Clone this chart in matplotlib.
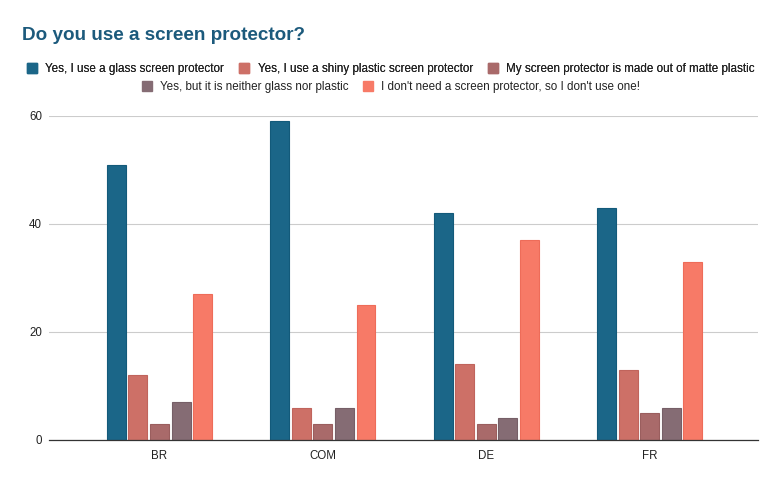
import matplotlib
matplotlib.use("Agg")
import matplotlib.pyplot as plt
from matplotlib.patches import Patch
import numpy as np
from matplotlib import font_manager

fams = {f.name for f in font_manager.fontManager.ttflist}
base_font = "Liberation Sans"
narrow_font = "Liberation Sans Narrow" if "Liberation Sans Narrow" in fams else "Liberation Sans"

categories = ["BR", "COM", "DE", "FR"]
series_names = [
    "Yes, I use a glass screen protector",
    "Yes, I use a shiny plastic screen protector",
    "My screen protector is made out of matte plastic",
    "Yes, but it is neither glass nor plastic",
    "I don't need a screen protector, so I don't use one!",
]
glass = [51, 59, 42, 43]
shiny = [12, 6, 14, 13]
matte = [3, 3, 3, 5]
neither = [7, 6, 4, 6]
none_ = [27, 25, 37, 33]
series_values = [glass, shiny, matte, neither, none_]
colors = ["#1b6688", "#cd7067", "#a96a6a", "#856c74", "#f77a67"]
edges = ["#135a7a", "#c0645c", "#9a5e5e", "#765f67", "#ee6c59"]
yticks = [0, 20, 40, 60]

fig = plt.figure(figsize=(7.82, 4.84), dpi=100)
ax = fig.add_axes([49/782, 1-440/484, (758-49)/782, (440-116)/484])

x = np.arange(len(categories))
pitch = 0.132
width = 0.116
for i, (vals, c, ec) in enumerate(zip(series_values, colors, edges)):
    ax.bar(x + (i-2)*pitch, vals, width=width, color=c, edgecolor=ec, linewidth=0.8, zorder=3)

ax.set_xlim(-0.676, 3.663)
ax.set_ylim(0, 60)
ax.set_yticks(yticks)
ax.set_yticklabels([str(t) for t in yticks], fontsize=8.3, color="#222222", family=base_font)
ax.set_xticks(x)
ax.set_xticklabels(categories, fontsize=8.3, color="#222222", family=base_font)
ax.tick_params(axis="both", length=0)
ax.tick_params(axis="y", pad=5)
ax.tick_params(axis="x", pad=7)
ax.grid(axis="y", color="#cccccc", linewidth=0.8, zorder=0)
for s in ["top", "right", "left"]:
    ax.spines[s].set_visible(False)
ax.spines["bottom"].set_color("#333333")
ax.spines["bottom"].set_linewidth(0.9)
ax.spines["bottom"].set_zorder(4)

fig.text(22/782, 1-35/484, "Do you use a screen protector?", fontsize=13.6, fontweight="bold",
         color="#1c5a7c", family=base_font, va="center", ha="left")

handles = [Patch(facecolor=c, edgecolor=c) for c in colors]
legprops = {"family": narrow_font, "size": 8.4, "weight": "normal"}
common = dict(frameon=False, prop=legprops, handlelength=0.86, handleheight=0.86,
              handletextpad=0.69, columnspacing=1.3, borderpad=0, borderaxespad=0)
leg1 = fig.legend(handles[:3], series_names[:3], loc="center", bbox_to_anchor=(0.5, 1-69/484),
                  ncol=3, **common)
for t in leg1.get_texts():
    t.set_color("#222222")
leg2 = fig.legend(handles[3:], series_names[3:], loc="center", bbox_to_anchor=(0.5, 1-87/484),
                  ncol=2, **common)
for t in leg2.get_texts():
    t.set_color("#222222")
fig.add_artist(leg1)

fig.savefig("out.png", dpi=100)
